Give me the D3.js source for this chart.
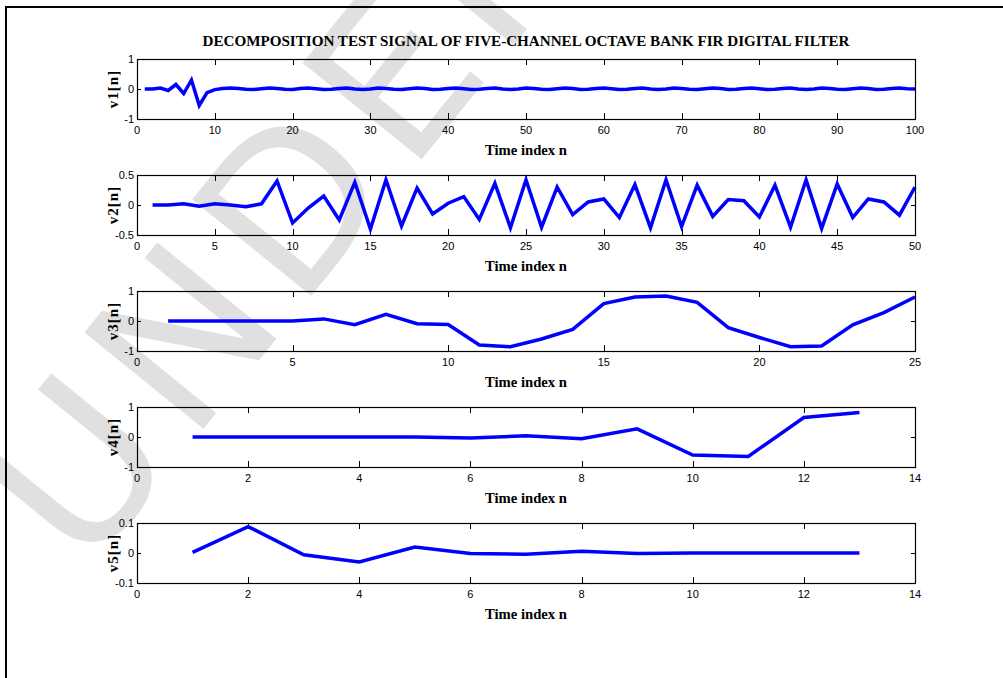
<!DOCTYPE html>
<html><head><meta charset="utf-8">
<script src="https://cdn.jsdelivr.net/npm/d3@7"></script>
<style>body{margin:0;background:#fff}svg{display:block}</style>
</head><body>
<svg id="c" width="1003" height="678"></svg>
<script>
// ---- data ----
const title = "DECOMPOSITION TEST SIGNAL OF FIVE-CHANNEL OCTAVE BANK FIR DIGITAL FILTER";
const xLabel = "Time index n";
const yLabels = ["v1[n]", "v2[n]", "v3[n]", "v4[n]", "v5[n]"];
const watermark = "UNDER REVIEW";
const xDomains = [[0, 100], [0, 50], [0, 25], [0, 14], [0, 14]];
const yDomains = [[-1, 1], [-0.5, 0.5], [-1, 1], [-1, 1], [-0.1, 0.1]];
const xTicks = [
  [0, 10, 20, 30, 40, 50, 60, 70, 80, 90, 100],
  [0, 5, 10, 15, 20, 25, 30, 35, 40, 45, 50],
  [0, 5, 10, 15, 20, 25],
  [0, 2, 4, 6, 8, 10, 12, 14],
  [0, 2, 4, 6, 8, 10, 12, 14]
];
const yTicks = [[-1, 0, 1], [-0.5, 0, 0.5], [-1, 0, 1], [-1, 0, 1], [-0.1, 0, 0.1]];
const v1 = [0, 0.00, 0.03, -0.05, 0.15, -0.15, 0.30, -0.55, -0.12, -0.02, 0.02,
  0.03, 0.02, -0.01, -0.02, 0.01, 0.03, 0.02, -0.01, -0.02, 0.02,
  0.03, 0.01, -0.02, -0.01, 0.02, 0.03, 0.00, -0.02, 0.00, 0.03,
  0.02, -0.01, -0.02, 0.01, 0.03, 0.02, -0.02, -0.01, 0.02, 0.03,
  0.01, -0.02, -0.01, 0.02, 0.03, 0.00, -0.02, 0.00, 0.03, 0.02,
  -0.01, -0.02, 0.01, 0.03, 0.02, -0.02, -0.01, 0.02, 0.03, 0.01,
  -0.02, -0.01, 0.02, 0.03, 0.00, -0.02, 0.00, 0.03, 0.02, -0.01,
  -0.02, 0.01, 0.03, 0.02, -0.02, -0.01, 0.02, 0.03, 0.01, -0.02,
  -0.01, 0.02, 0.03, 0.00, -0.02, 0.00, 0.03, 0.02, -0.01, -0.02,
  0.01, 0.03, 0.02, -0.02, -0.01, 0.02, 0.03, 0.01, 0.00];
const v2 = [0, 0, 0.02, -0.02, 0.02, 0.00, -0.03, 0.02, 0.40, -0.30,
  -0.05, 0.15, -0.25, 0.38, -0.40, 0.42, -0.35, 0.28, -0.15, 0.03,
  0.14, -0.24, 0.36, -0.38, 0.42, -0.37, 0.30, -0.16, 0.05, 0.10,
  -0.21, 0.34, -0.38, 0.42, -0.36, 0.33, -0.19, 0.09, 0.07, -0.20,
  0.33, -0.37, 0.42, -0.39, 0.35, -0.21, 0.10, 0.05, -0.17, 0.30];
const v3 = [0, 0, 0, 0, 0, 0.07, -0.12, 0.22, -0.09, -0.12,
  -0.80, -0.86, -0.60, -0.28, 0.58, 0.80, 0.83, 0.62, -0.22, -0.55,
  -0.86, -0.83, -0.13, 0.28, 0.80];
const v4 = [0, 0, 0, 0, 0, -0.03, 0.04, -0.06, 0.27, -0.60, -0.65, 0.65, 0.82];
const v5 = [0.002, 0.088, -0.006, -0.030, 0.020, -0.002, -0.004, 0.006, -0.002, 0, 0, 0, 0];
const series = [v1, v2, v3, v4, v5];

// ---- layout ----
const svg = d3.select("#c");
svg.append("rect").attr("width", 1003).attr("height", 678).attr("fill", "#fff");

// watermark
svg.append("text")
  .attr("transform", "translate(85,575) rotate(-51)")
  .attr("font-family", "DejaVu Sans, sans-serif")
  .attr("font-size", 210)
  .attr("fill", "#e0e0e0")
  .attr("letter-spacing", 14)
  .text(watermark);

// outer frame
svg.append("path").attr("d", "M6,678V7H1003").attr("fill", "none")
  .attr("stroke", "#000").attr("stroke-width", 2);

const L = 137, R = 915, H = 60;
const tops = [59, 175, 291, 407, 523];
const tickFont = "'Liberation Sans Narrow','Arial Narrow','Liberation Sans',sans-serif";
const serif = "'Liberation Serif','Times New Roman',serif";

svg.append("text").attr("x", (L + R) / 2).attr("y", 46)
  .attr("text-anchor", "middle").attr("font-family", serif)
  .attr("font-weight", "bold").attr("font-size", 15)
  .attr("textLength", 647).attr("lengthAdjust", "spacingAndGlyphs")
  .text(title);

series.forEach((data, i) => {
  const top = tops[i];
  const x = d3.scaleLinear().domain(xDomains[i]).range([L, R]);
  const y = d3.scaleLinear().domain(yDomains[i]).range([top + H, top]);
  const g = svg.append("g");

  // ticks (inward, both sides)
  xTicks[i].forEach(t => {
    const px = Math.round(x(t)) + 0.5;
    g.append("line").attr("x1", px).attr("x2", px).attr("y1", top).attr("y2", top + 6).attr("stroke", "#000");
    g.append("line").attr("x1", px).attr("x2", px).attr("y1", top + H).attr("y2", top + H - 6).attr("stroke", "#000");
    g.append("text").attr("x", x(t)).attr("y", top + H + 15)
      .attr("text-anchor", "middle").attr("font-family", tickFont).attr("font-size", 11)
      .text(String(t));
  });
  yTicks[i].forEach(t => {
    const py = Math.round(y(t)) + 0.5;
    g.append("line").attr("x1", L).attr("x2", L + 4).attr("y1", py).attr("y2", py).attr("stroke", "#000");
    g.append("line").attr("x1", R).attr("x2", R - 4).attr("y1", py).attr("y2", py).attr("stroke", "#000");
    g.append("text").attr("x", L - 3).attr("y", y(t) + 4)
      .attr("text-anchor", "end").attr("font-family", tickFont).attr("font-size", 11)
      .text(String(t));
  });

  // line
  const line = d3.line().x((d, k) => x(k + 1)).y(d => y(d));
  g.append("path").datum(data).attr("d", line).attr("fill", "none")
    .attr("stroke", "#0000ff").attr("stroke-width", 3.5).attr("stroke-linejoin", "miter");

  // frame
  g.append("rect").attr("x", L + 0.5).attr("y", top + 0.5).attr("width", R - L).attr("height", H)
    .attr("fill", "none").attr("stroke", "#000").attr("stroke-width", 1.2);

  // labels
  g.append("text").attr("x", (L + R) / 2).attr("y", top + H + 36)
    .attr("text-anchor", "middle").attr("font-family", serif).attr("font-size", 15)
    .attr("font-weight", "bold")
    .attr("textLength", 82).attr("lengthAdjust", "spacingAndGlyphs")
    .text(xLabel);
  g.append("text").attr("transform", `translate(118,${top + H / 2}) rotate(-90)`)
    .attr("text-anchor", "middle").attr("font-family", serif).attr("font-size", 15)
    .attr("font-weight", "bold").attr("letter-spacing", 1)
    .text(yLabels[i]);
});
</script>
</body></html>
